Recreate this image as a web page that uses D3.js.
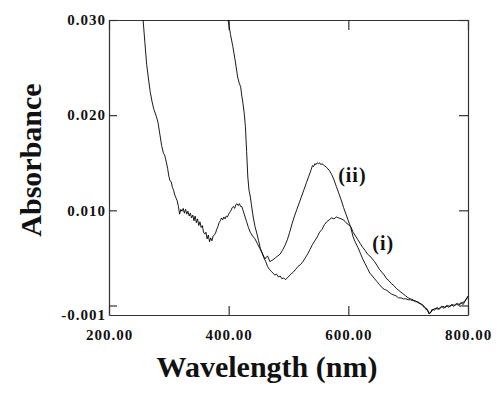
<!DOCTYPE html>
<html>
<head>
<meta charset="utf-8">
<script src="https://cdn.jsdelivr.net/npm/d3@7"></script>
<style>
  body { margin: 0; background: #fff; }
  svg { display: block; }
  text { font-family: "Liberation Serif", "Times New Roman", serif !important; font-weight: bold; fill: #111; }
</style>
</head>
<body>
<svg id="chart" width="500" height="395"></svg>
<script>
// ---- data ----
const wavelengthsI = [257,260,263,266,269,272,275,279,282,285,288,291,293,295,298,300,302,304,306,308,310,312,314,316,318,320,322,324,326,328,330,332,334,336,338,340,342,344,346,348,350,352,354,356,358,360,362,364,366,368,370,372,374,376,378,380,382,384,386,388,390,392,394,396,398,400,402,404,406,408,410,412,414,416,418,420,422,424,426,428,430,433,436,440,444,448,452,456,459,462,465,468,471,474,477,480,483,486,489,492,495,498,501,504,508,512,516,520,524,528,532,536,540,544,548,552,556,560,564,568,572,576,580,584,588,592,596,600,604,608,612,616,620,624,628,632,636,640,644,648,652,656,660,664,668,672,676,680,684,688,692,696,700,704,708,712,716,720,724,728,732,735,737,740,744,748,752,756,760,764,768,772,776,780,784,788,792,796,800];
const absorbanceI = [0.0300,0.0276,0.0253,0.0238,0.0224,0.0214,0.0206,0.0199,0.0192,0.0180,0.0168,0.0160,0.0158,0.0153,0.0144,0.0136,0.0131,0.0130,0.0124,0.0121,0.0116,0.0113,0.0110,0.0104,0.0096,0.0101,0.0099,0.0102,0.0097,0.0101,0.0096,0.0099,0.0094,0.0097,0.0092,0.0095,0.0089,0.0094,0.0087,0.0091,0.0084,0.0088,0.0082,0.0084,0.0077,0.0075,0.0077,0.0070,0.0074,0.0067,0.0071,0.0068,0.0073,0.0074,0.0076,0.0080,0.0083,0.0087,0.0089,0.0092,0.0090,0.0093,0.0091,0.0094,0.0093,0.0096,0.0098,0.0100,0.0103,0.0104,0.0102,0.0106,0.0107,0.0105,0.0107,0.0104,0.0104,0.0100,0.0096,0.0092,0.0088,0.0082,0.0077,0.0073,0.0070,0.0065,0.0060,0.0055,0.0050,0.0046,0.0041,0.0038,0.0036,0.0034,0.0032,0.0033,0.0030,0.0031,0.0028,0.0029,0.0027,0.0029,0.0031,0.0033,0.0035,0.0038,0.0041,0.0043,0.0046,0.0050,0.0054,0.0059,0.0064,0.0068,0.0072,0.0077,0.0080,0.0085,0.0088,0.0090,0.0092,0.0091,0.0093,0.0092,0.0091,0.0090,0.0087,0.0085,0.0083,0.0077,0.0073,0.0069,0.0065,0.0061,0.0058,0.0054,0.0052,0.0049,0.0046,0.0042,0.0038,0.0035,0.0032,0.0028,0.0026,0.0023,0.0021,0.0018,0.0016,0.0014,0.0012,0.0010,0.0008,0.0007,0.0006,0.0004,0.0004,0.0002,0.0001,-0.0002,-0.0004,-0.0008,-0.0008,-0.0004,-0.0005,-0.0002,-0.0004,-0.0001,-0.0003,0.0000,-0.0002,0.0001,-0.0001,0.0002,0.0000,0.0003,0.0001,0.0006,0.0010];

const wavelengthsII = [399,403,407,411,415,418,420,422,424,426,428,430,432,434,436,438,441,444,447,450,453,456,459,461,463,465,467,469,471,474,478,482,486,490,494,498,502,506,510,514,518,522,526,530,534,538,540,542,544,546,548,550,552,554,556,560,564,568,572,576,580,584,588,592,596,600,604,608,612,616,620,624,628,632,636,640,644,648,652,656,660,664,668,672,676,680,684,688,692,696,700,704,708,712,716,720,724,728,732,735,738,742,746,750,754,758,762,766,770,774,778,782,786,790,794,798,800];
const absorbanceII = [0.0300,0.0285,0.0272,0.0257,0.0240,0.0233,0.0230,0.0220,0.0212,0.0202,0.0188,0.0162,0.0135,0.0121,0.0115,0.0106,0.0093,0.0083,0.0076,0.0068,0.0060,0.0055,0.0051,0.0049,0.0051,0.0052,0.0049,0.0046,0.0047,0.0048,0.0050,0.0052,0.0054,0.0058,0.0063,0.0069,0.0077,0.0086,0.0094,0.0101,0.0108,0.0115,0.0122,0.0129,0.0136,0.0143,0.0147,0.0146,0.0149,0.0148,0.0150,0.0149,0.0150,0.0148,0.0149,0.0147,0.0145,0.0142,0.0138,0.0132,0.0125,0.0118,0.0111,0.0103,0.0096,0.0089,0.0082,0.0072,0.0066,0.0061,0.0055,0.0049,0.0044,0.0039,0.0034,0.0031,0.0028,0.0025,0.0022,0.0019,0.0017,0.0016,0.0014,0.0012,0.0011,0.0010,0.0008,0.0008,0.0007,0.0007,0.0006,0.0006,0.0005,0.0005,0.0003,0.0002,0.0000,-0.0003,-0.0005,-0.0009,-0.0007,-0.0004,-0.0003,-0.0004,-0.0002,-0.0001,-0.0002,0.0000,-0.0001,0.0001,0.0000,0.0002,0.0001,0.0003,0.0004,0.0007,0.0009];

const xTicks = [200, 400, 600, 800];
const xTickLabels = ["200.00", "400.00", "600.00", "800.00"];
const yTicks = [0.030, 0.020, 0.010, 0.000];
const yTickLabels = ["0.030", "0.020", "0.010", ""];
const yMin = -0.001, yMax = 0.030;
const yMinLabel = "-0.001";
const seriesLabels = ["(i)", "(ii)"];
const xTitle = "Wavelength (nm)";
const yTitle = "Absorbance";

// ---- layout ----
const L = 109, R = 468, T = 20, B = 315;
const svg = d3.select("#chart");
const x = d3.scaleLinear().domain([200, 800]).range([L, R]);
const y = d3.scaleLinear().domain([yMin, yMax]).range([B, T]);
const serif = "'Liberation Serif', 'Times New Roman', serif";

svg.append("defs").append("clipPath").attr("id", "plotclip")
  .append("rect").attr("x", L).attr("y", T).attr("width", R - L).attr("height", B - T);

const frameColor = "#333";

const gB = svg.append("g").attr("transform", `translate(0,${B})`)
  .call(d3.axisBottom(x).tickValues(xTicks).tickSizeInner(-9).tickSizeOuter(0).tickPadding(14)
    .tickFormat((d, i) => xTickLabels[i]));
const gT = svg.append("g").attr("transform", `translate(0,${T})`)
  .call(d3.axisTop(x).tickValues(xTicks).tickSizeInner(-10).tickSizeOuter(0).tickFormat(""));
const gL = svg.append("g").attr("transform", `translate(${L},0)`)
  .call(d3.axisLeft(y).tickValues(yTicks).tickSizeInner(-8).tickSizeOuter(0).tickPadding(3)
    .tickFormat((d, i) => yTickLabels[i]));
const gR = svg.append("g").attr("transform", `translate(${R},0)`)
  .call(d3.axisRight(y).tickValues(yTicks).tickSizeInner(-9).tickSizeOuter(0).tickFormat(""));

[gB, gT, gL, gR].forEach(g => {
  g.attr("font-family", null).attr("font-size", null);
  g.selectAll(".domain").attr("stroke", frameColor).attr("stroke-width", 1.2);
  g.selectAll(".tick line").attr("stroke", frameColor).attr("stroke-width", 1.2);
  g.selectAll("text").style("font-family", serif).style("font-weight", "bold")
    .attr("font-size", 15).attr("letter-spacing", 1).attr("fill", "#111");
});

svg.append("text").attr("x", L - 3).attr("y", y(yMin)).attr("dy", "0.32em")
  .attr("text-anchor", "end").attr("font-size", 15).attr("letter-spacing", 1).text(yMinLabel);

const line = d3.line().x(d => x(d[0])).y(d => y(d[1]));
const plot = svg.append("g").attr("clip-path", "url(#plotclip)");
plot.append("path").datum(d3.zip(wavelengthsI, absorbanceI))
  .attr("fill", "none").attr("stroke", "#000").attr("stroke-width", 0.9).attr("d", line);
plot.append("path").datum(d3.zip(wavelengthsII, absorbanceII))
  .attr("fill", "none").attr("stroke", "#000").attr("stroke-width", 0.9).attr("d", line);

svg.append("text").attr("x", x(583)).attr("y", y(0.0130)).attr("font-size", 20).attr("letter-spacing", 1).text(seriesLabels[1]);
svg.append("text").attr("x", x(640)).attr("y", y(0.0058)).attr("font-size", 20).attr("letter-spacing", 1).text(seriesLabels[0]);

svg.append("text").attr("x", 267).attr("y", 377).attr("text-anchor", "middle")
  .attr("font-size", 30).text(xTitle);
svg.append("text").attr("transform", "translate(41,160) rotate(-90)").attr("text-anchor", "middle")
  .attr("font-size", 30).text(yTitle);
</script>
</body>
</html>
